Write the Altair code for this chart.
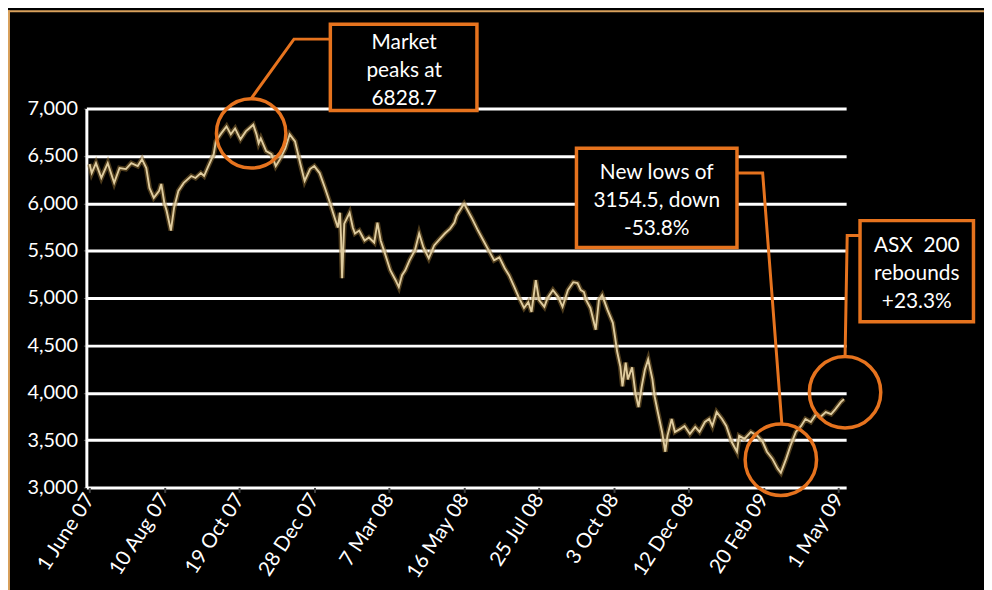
import altair as alt
import pandas as pd

# ---------------- data ----------------
dates = [
    "2007-06-01", "2007-06-03", "2007-06-07", "2007-06-12", "2007-06-18", "2007-06-24", "2007-06-29",
    "2007-07-05", "2007-07-10", "2007-07-16", "2007-07-20", "2007-07-24", "2007-07-27", "2007-07-31",
    "2007-08-05", "2007-08-07", "2007-08-10", "2007-08-12", "2007-08-16", "2007-08-19", "2007-08-23",
    "2007-08-28", "2007-09-04", "2007-09-08", "2007-09-13", "2007-09-16", "2007-09-20", "2007-09-25",
    "2007-09-27", "2007-10-02", "2007-10-07", "2007-10-11", "2007-10-15", "2007-10-20", "2007-10-25",
    "2007-11-01", "2007-11-04", "2007-11-06", "2007-11-08", "2007-11-13", "2007-11-18", "2007-11-22",
    "2007-11-26", "2007-12-01", "2007-12-05", "2007-12-10", "2007-12-15", "2007-12-19", "2007-12-24",
    "2007-12-28", "2008-01-02", "2008-01-07", "2008-01-11", "2008-01-16", "2008-01-19", "2008-01-21",
    "2008-01-22", "2008-01-23", "2008-01-25", "2008-01-30", "2008-02-02", "2008-02-04", "2008-02-08",
    "2008-02-13", "2008-02-17", "2008-02-22", "2008-02-25", "2008-02-28", "2008-03-03", "2008-03-08",
    "2008-03-13", "2008-03-16", "2008-03-19", "2008-03-22", "2008-03-26", "2008-03-31", "2008-04-04",
    "2008-04-08", "2008-04-13", "2008-04-18", "2008-04-22", "2008-04-28", "2008-05-03", "2008-05-07",
    "2008-05-09", "2008-05-14", "2008-05-16", "2008-05-23", "2008-05-29", "2008-06-04", "2008-06-09",
    "2008-06-13", "2008-06-18", "2008-06-23", "2008-06-27", "2008-07-02", "2008-07-06", "2008-07-11",
    "2008-07-15", "2008-07-18", "2008-07-22", "2008-07-25", "2008-07-30", "2008-08-02", "2008-08-07",
    "2008-08-12", "2008-08-16", "2008-08-21", "2008-08-26", "2008-08-30", "2008-09-02", "2008-09-05",
    "2008-09-07", "2008-09-11", "2008-09-16", "2008-09-19", "2008-09-22", "2008-09-27", "2008-10-02",
    "2008-10-04", "2008-10-06", "2008-10-09", "2008-10-11", "2008-10-14", "2008-10-16", "2008-10-20",
    "2008-10-23", "2008-10-26", "2008-10-29", "2008-11-01", "2008-11-04", "2008-11-08", "2008-11-10",
    "2008-11-13", "2008-11-17", "2008-11-20", "2008-11-22", "2008-11-26", "2008-11-29", "2008-12-04",
    "2008-12-08", "2008-12-13", "2008-12-18", "2008-12-22", "2008-12-27", "2008-12-31", "2009-01-03",
    "2009-01-07", "2009-01-12", "2009-01-16", "2009-01-21", "2009-01-26", "2009-01-28", "2009-02-02",
    "2009-02-08", "2009-02-14", "2009-02-19", "2009-02-23", "2009-02-28", "2009-03-05", "2009-03-08",
    "2009-03-13", "2009-03-17", "2009-03-22", "2009-03-27", "2009-03-31", "2009-04-05", "2009-04-10",
    "2009-04-14", "2009-04-19", "2009-04-24", "2009-04-28", "2009-05-03", "2009-05-06",
]
values = [
    6414, 6319, 6424, 6267, 6424, 6215, 6372,
    6361, 6424, 6393, 6466, 6372, 6162, 6058,
    6131, 6204, 5995, 5921, 5712, 5953, 6131,
    6215, 6288, 6267, 6319, 6288, 6393, 6518,
    6654, 6738, 6812, 6728, 6790, 6675, 6759,
    6829, 6728, 6634, 6686, 6550, 6518, 6393,
    6466, 6581, 6728, 6654, 6414, 6236, 6361,
    6393, 6319, 6162, 6026, 5848, 5744, 5900,
    5639, 5209, 5785, 5900, 5744, 5681, 5712,
    5607, 5639, 5586, 5796, 5607, 5471, 5293,
    5188, 5115, 5241, 5293, 5398, 5503, 5681,
    5534, 5419, 5555, 5607, 5681, 5733, 5796,
    5869, 5960, 5995, 5848, 5712, 5586, 5482,
    5398, 5429, 5314, 5241, 5115, 5010, 4895,
    4958, 4853, 5188, 4979, 4906, 5000, 5084,
    5010, 4906, 5084, 5167, 5157, 5084, 5063,
    4979, 4895, 4665, 4979, 5031, 4874, 4738,
    4592, 4435, 4277, 4068, 4319, 4141, 4267,
    4005, 3848, 4068, 4246, 4351, 4141, 3963,
    3796, 3586, 3377, 3545, 3723, 3586, 3618,
    3649, 3565, 3639, 3586, 3691, 3723, 3649,
    3796, 3723, 3649, 3482, 3377, 3545, 3513,
    3586, 3545, 3482, 3377, 3304, 3199, 3155,
    3304, 3440, 3586, 3649, 3723, 3691, 3775,
    3744, 3796, 3775, 3827, 3901, 3932,
]

tick_dates = ["2007-06-01", "2007-08-10", "2007-10-19", "2007-12-28", "2008-03-07", "2008-05-16",
              "2008-07-25", "2008-10-03", "2008-12-12", "2009-02-20", "2009-05-01"]
tick_labels = ["1 June 07", "10 Aug 07", "19 Oct 07", "28 Dec 07", "7 Mar 08", "16 May 08",
               "25 Jul 08", "3 Oct 08", "12 Dec 08", "20 Feb 09", "1 May 09"]
y_ticks = [3000, 3500, 4000, 4500, 5000, 5500, 6000, 6500, 7000]

# annotations (positions in data units); the middle line of each note sits at note_value
note_text = ["Market\npeaks at\n6828.7", "New lows of\n3154.5, down\n-53.8%", "ASX\u00a0 200\nrebounds\n+23.3%"]
note_date = ["2008-03-21", "2008-11-12", "2009-07-13"]
note_value = [7398, 6026, 5251]
box_start = ["2008-01-12", "2008-08-29", "2009-05-21"]
box_end = ["2008-05-28", "2009-01-26", "2009-09-04"]
box_top = [7890, 6581, 5817]
box_bottom = [6979, 5534, 4749]
circle_date = ["2007-10-30", "2009-03-08", "2009-05-07"]
circle_value = [6738, 3293, 4005]
circle_size = [4900, 5184, 5184]
leader_id = [1, 1, 1, 2, 2, 2, 3, 3, 3]
leader_order = [0, 1, 2, 0, 1, 2, 0, 1, 2]
leader_date = ["2008-01-12", "2007-12-09", "2007-10-30",
               "2009-01-26", "2009-02-19", "2009-03-09",
               "2009-05-21", "2009-05-09", "2009-05-07"]
leader_value = [7733, 7733, 7105, 6319, 6319, 3660, 5660, 5660, 4372]

# ---------------- tables ----------------
series = pd.DataFrame({"date": dates, "value": values})
notes = pd.DataFrame({"date": note_date, "value": note_value, "text": note_text})
boxes = pd.DataFrame({"date": box_start, "end": box_end, "value": box_top, "bottom": box_bottom})
circles = pd.DataFrame({"date": circle_date, "value": circle_value, "size": circle_size})
leaders = pd.DataFrame({"id": leader_id, "order": leader_order, "date": leader_date, "value": leader_value})

ORANGE = "#E6731E"
FONT = "Lato"


def dt(s):
    t = pd.Timestamp(s)
    return alt.DateTime(year=t.year, month=t.month, date=t.day, utc=True)


x_scale = alt.Scale(type="utc", domain=[dt("2007-05-29"), dt("2009-05-08")])
y_scale = alt.Scale(domain=[3000, 7000], nice=False, zero=False)

key = "utcFormat(datum.value, '%Y-%m-%d')"
label_expr = "''"
for d, l in reversed(list(zip(tick_dates, tick_labels))):
    label_expr = f"({key} == '{d}' ? '{l}' : {label_expr})"

x_axis = alt.Axis(
    values=[dt(d) for d in tick_dates], labelExpr=label_expr, title=None, grid=False,
    domain=False, ticks=True, tickColor="#444444", tickSize=5, tickWidth=2,
    labelAngle=303, labelAlign="right", labelBaseline="middle", labelPadding=3,
    labelFont=FONT, labelFontSize=20.5, labelColor="white", labelOverlap=False,
)
y_axis = alt.Axis(
    values=y_ticks, labelExpr="format(datum.value, ',.0f')", title=None, grid=True,
    gridColor="white", gridWidth=3,
    domain=True, domainColor="white", domainWidth=3, ticks=True, tickColor="#555555",
    tickSize=3, labelPadding=6, labelFont=FONT, labelFontSize=20, labelColor="white",
    labelOverlap=False,
)

X = alt.X("date:T", scale=x_scale, axis=x_axis)
Y = alt.Y("value:Q", scale=y_scale, axis=y_axis)

glow = alt.Chart(series).mark_line(color="#8C6C32", strokeWidth=5, opacity=0.55).encode(x=X, y=Y)
line = alt.Chart(series).mark_line(color="#DFCC9F", strokeWidth=1.9).encode(x=X, y=Y)

rings = alt.Chart(circles).mark_point(shape="circle", filled=False, color=ORANGE, strokeWidth=3.5, opacity=1).encode(
    x=X, y=Y, size=alt.Size("size:Q", scale=None, legend=None)
)

leader_lines = alt.Chart(leaders).mark_line(color=ORANGE, strokeWidth=3).encode(
    x=X, y=Y, detail="id:N", order="order:Q"
)

box_marks = alt.Chart(boxes).mark_rect(fill="black", stroke=ORANGE, strokeWidth=3.5).encode(
    x=X, x2="end:T", y=Y, y2="bottom:Q",
)

texts = alt.Chart(notes).mark_text(
    lineBreak="\n", font=FONT, fontSize=21, color="white", align="center", baseline="middle",
    lineHeight=28.5, dy=-28.5
).encode(x=X, y=Y, text="text:N")

frame_top = alt.Chart(alt.Data(values=[{}])).mark_rule(color="#D9A15C", strokeWidth=2).encode(
    x=alt.value(-79), x2=alt.value(910), y=alt.value(-98)
)
frame_left = alt.Chart(alt.Data(values=[{}])).mark_rule(color="#D9A15C", strokeWidth=2).encode(
    x=alt.value(-78), y=alt.value(-99), y2=alt.value(490)
)

chart = alt.layer(
    glow, line, rings, leader_lines, box_marks, texts, frame_top, frame_left
).properties(
    width=766, height=382,
    padding={"left": 79, "top": 99, "right": 139, "bottom": 101},
    autosize=alt.AutoSizeParams(type="none"),
    background="black",
).configure_view(stroke=None)

chart.save("out.html", embed_options={"renderer": "svg", "actions": False})
